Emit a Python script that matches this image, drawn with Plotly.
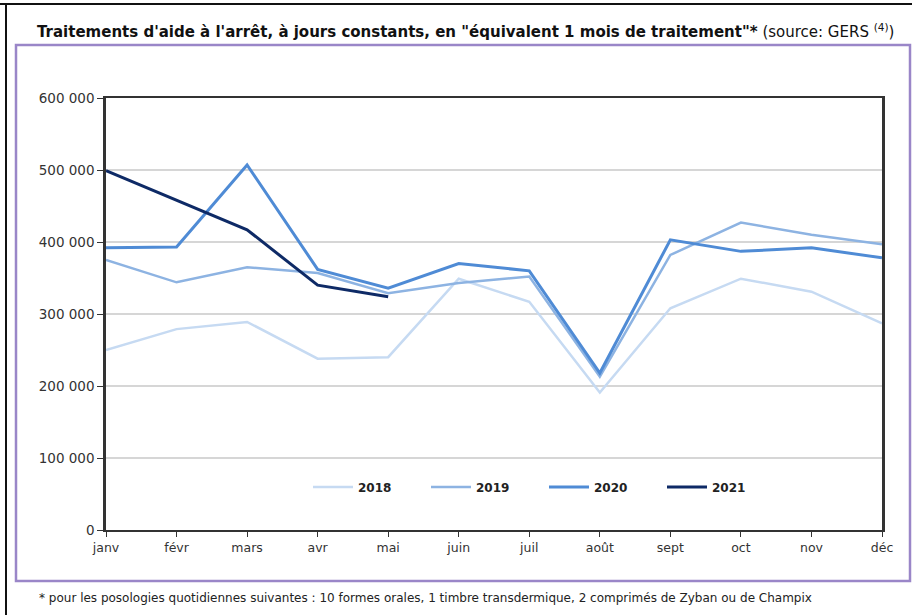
import plotly.graph_objects as go

months = ["janv", "févr", "mars", "avr", "mai", "juin", "juil", "août", "sept", "oct", "nov", "déc"]
s2018 = [250000, 279000, 289000, 238000, 240000, 349000, 317000, 191000, 308000, 349000, 331000, 287000]
s2019 = [375000, 344000, 365000, 357000, 329000, 343000, 352000, 213000, 382000, 427000, 410000, 397000]
s2020 = [392000, 393000, 507000, 362000, 336000, 370000, 360000, 218000, 403000, 387000, 392000, 378000]
s2021 = [499000, 458000, 417000, 340000, 324000]
y_ticks = [0, 100000, 200000, 300000, 400000, 500000, 600000]
y_ticktext = ["0", "100 000", "200 000", "300 000", "400 000", "500 000", "600 000"]

series = [
    ("2018", s2018, "#c6daf2", 2.5),
    ("2019", s2019, "#8db3e2", 2.5),
    ("2020", s2020, "#4f8bd5", 3),
    ("2021", s2021, "#0e2a66", 3),
]

W, H = 912, 615
L, R, T, B = 106, 882, 98, 530
FONT = "DejaVu Sans, Liberation Sans, Arial, sans-serif"

def px(x):
    return (x - L) / (R - L)

def py(y):
    return (B - y) / (B - T)

fig = go.Figure()
for name, vals, color, w in series:
    fig.add_trace(go.Scatter(
        x=months[:len(vals)], y=vals, mode="lines", name="<b>" + name + "</b>",
        line=dict(color=color, width=w),
    ))

fig.update_layout(
    width=W, height=H,
    margin=dict(l=L, r=W - R, t=T, b=H - B, pad=0),
    paper_bgcolor="white", plot_bgcolor="white",
    font=dict(family=FONT, size=12, color="#222"),
    showlegend=True,
    legend=dict(
        orientation="h", x=px(308), y=py(487), xanchor="left", yanchor="middle",
        font=dict(family=FONT, size=12, color="#222"), bgcolor="rgba(0,0,0,0)",
        entrywidth=63, entrywidthmode="pixels", itemwidth=40,
    ),
    xaxis=dict(
        type="category", range=[0, 11], showgrid=False,
        showline=True, linecolor="#333", linewidth=2, mirror=True,
        ticks="outside", ticklen=5, tickcolor="#333", tickwidth=1,
        tickfont=dict(family=FONT, size=12.5, color="#333"),
    ),
    yaxis=dict(
        range=[0, 600000], tickvals=y_ticks, ticktext=y_ticktext,
        showgrid=True, gridcolor="#d6d6d6", gridwidth=1.5,
        showline=True, linecolor="#333", linewidth=2.5, mirror=True,
        ticks="outside", ticklen=6, tickcolor="#333", tickwidth=1,
        tickfont=dict(family=FONT, size=13.5, color="#333"), zeroline=False,
    ),
)

shapes = [
    dict(type="line", xref="paper", yref="paper", x0=px(0), x1=px(912), y0=py(4), y1=py(4),
         line=dict(color="#111", width=2)),
    dict(type="line", xref="paper", yref="paper", x0=px(6), x1=px(6), y0=py(4), y1=py(615),
         line=dict(color="#111", width=2)),
    dict(type="rect", xref="paper", yref="paper", x0=px(16), x1=px(910), y0=py(45), y1=py(581),
         line=dict(color="#9a86c8", width=2.5), fillcolor="rgba(0,0,0,0)", layer="below"),
]
fig.update_layout(shapes=shapes)

fig.add_annotation(
    xref="paper", yref="paper", x=px(35), y=py(31), xanchor="left", yanchor="middle",
    text="<b>Traitements d'aide à l'arrêt, à jours constants, en \"équivalent 1 mois de traitement\"*</b> (source: GERS <sup>(4)</sup>)",
    showarrow=False, font=dict(family=FONT, size=15, color="#111"),
)
fig.add_annotation(
    xref="paper", yref="paper", x=px(37), y=py(598), xanchor="left", yanchor="middle",
    text="* pour les posologies quotidiennes suivantes : 10 formes orales, 1 timbre transdermique, 2 comprimés de Zyban ou de Champix",
    showarrow=False, font=dict(family=FONT, size=12, color="#222"),
)

fig.write_html("out.html", config={"displayModeBar": False},
               post_script="document.body.style.margin='0';")
